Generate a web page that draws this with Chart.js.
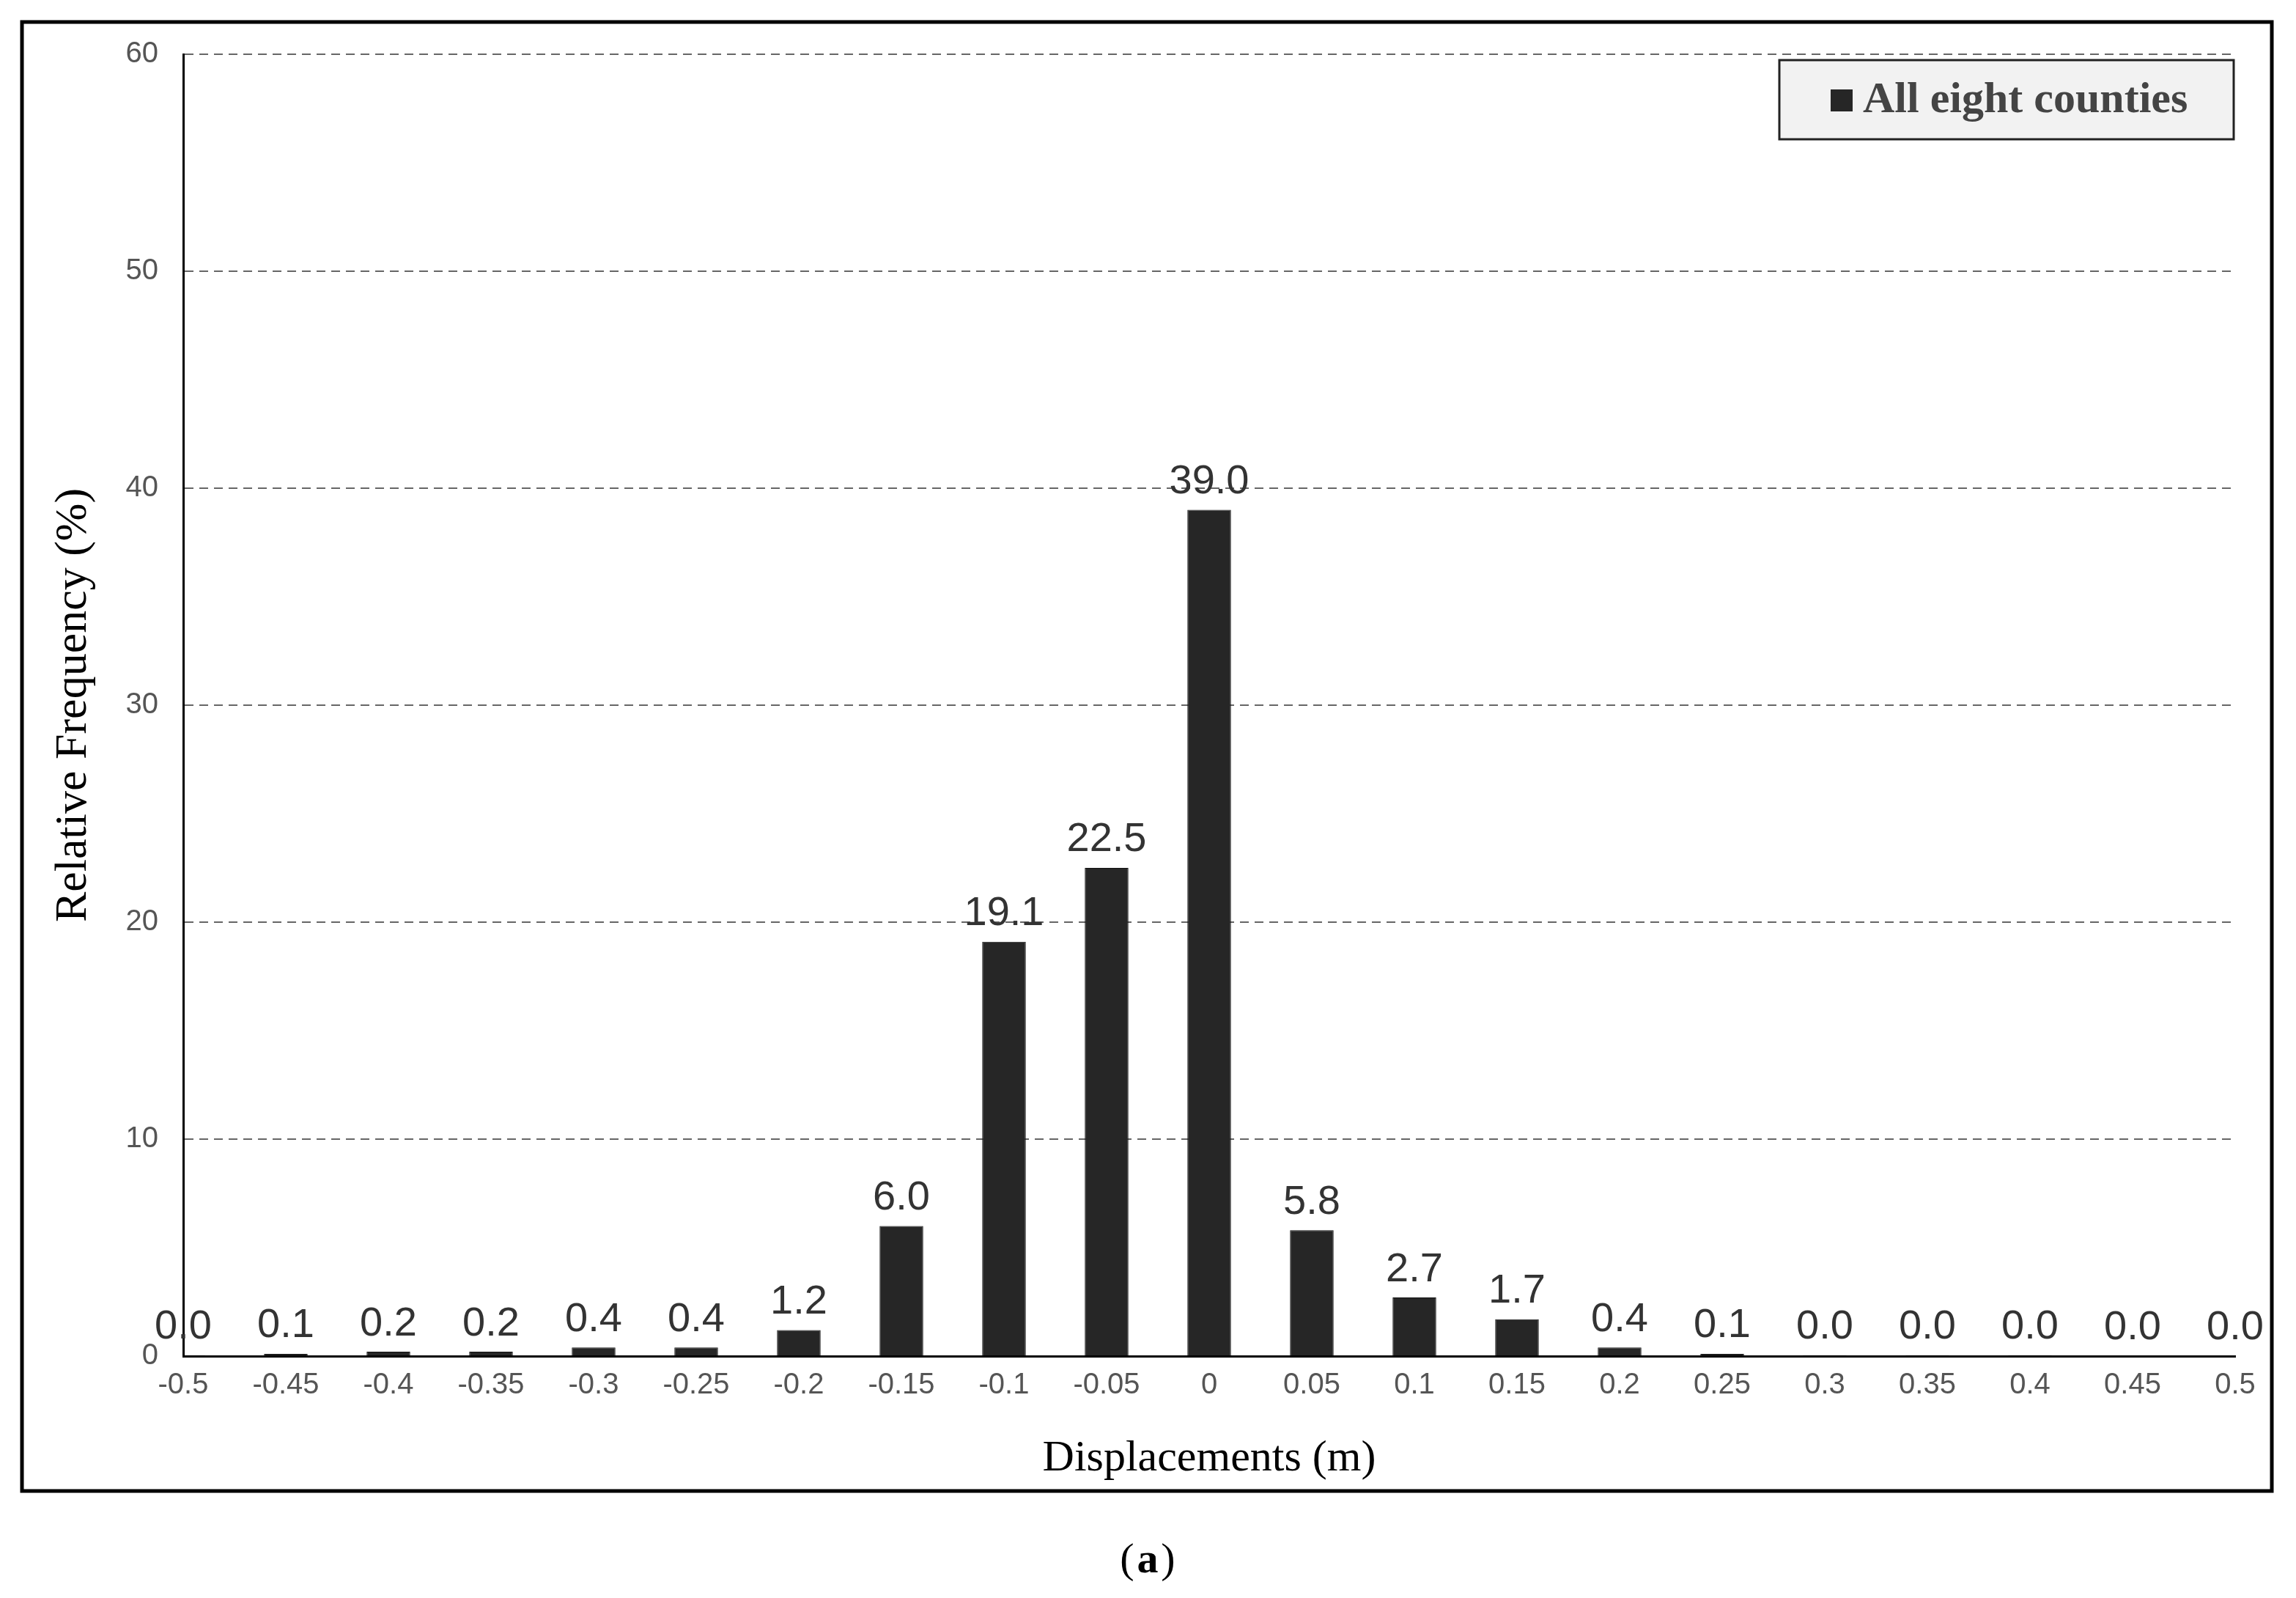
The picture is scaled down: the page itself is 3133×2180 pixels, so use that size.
<!DOCTYPE html>
<html><head><meta charset="utf-8">
<script src="https://cdn.jsdelivr.net/npm/chart.js@4.4.0/dist/chart.umd.min.js"></script>
<style>html,body{margin:0;padding:0;background:#fff}canvas{display:block}</style>
</head><body>
<div style="width:3133px;height:2180px;position:relative"><canvas id="c" width="3133" height="2180"></canvas></div>
<script>
const categories = ['-0.5','-0.45','-0.4','-0.35','-0.3','-0.25','-0.2','-0.15','-0.1','-0.05','0','0.05','0.1','0.15','0.2','0.25','0.3','0.35','0.4','0.45','0.5'];
const frequency = [0.04,0.1,0.2,0.2,0.4,0.4,1.2,6.0,19.1,22.5,39.0,5.8,2.7,1.7,0.4,0.1,0.04,0.04,0.04,0,0];
const yTicks = [0,10,20,30,40,50,60];
const seriesName = 'All eight counties';

const deco = {
  id:'deco',
  afterDraw(chart){
    const ctx = chart.ctx;
    ctx.save();
    ctx.strokeStyle='#000'; ctx.lineWidth=5;
    ctx.strokeRect(30,30,3070,2004);
    const meta = chart.getDatasetMeta(0);
    ctx.fillStyle='#333'; ctx.font='56px "Liberation Sans", Arial, sans-serif';
    ctx.textAlign='center'; ctx.textBaseline='bottom';
    meta.data.forEach((bar,i)=>{
      ctx.fillText(frequency[i].toFixed(1), bar.x, bar.y-10);
    });
    ctx.fillStyle='#f2f2f2'; ctx.fillRect(2428,82,620,108);
    ctx.strokeStyle='#222'; ctx.lineWidth=3; ctx.strokeRect(2428,82,620,108);
    ctx.fillStyle='#262626'; ctx.fillRect(2498,122,30,30);
    ctx.fillStyle='#444'; ctx.font='bold 60px "Liberation Serif", "Times New Roman", serif';
    ctx.textAlign='left'; ctx.textBaseline='middle';
    ctx.fillText(seriesName, 2542, 137);
    ctx.fillStyle='#000'; ctx.textAlign='center';
    ctx.font='58px "Liberation Serif", serif';
    ctx.fillText('(', 1538, 2130);
    ctx.font='bold 58px "Liberation Serif", serif';
    ctx.fillText('a', 1566, 2130);
    ctx.font='58px "Liberation Serif", serif';
    ctx.fillText(')', 1594, 2130);
    ctx.restore();
  }
};

new Chart(document.getElementById('c'), {
  type:'bar',
  data:{labels:categories, datasets:[{label:seriesName, data:frequency, backgroundColor:'#262626', borderColor:'#111', borderWidth:1, barPercentage:0.85, categoryPercentage:0.5}]},
  options:{
    responsive:false, animation:false, devicePixelRatio:1,
    layout:{padding:{left:60,top:74,right:83,bottom:150}},
    plugins:{legend:{display:false}, tooltip:{enabled:false}},
    scales:{
      x:{offset:false, grid:{display:false, drawTicks:true, tickLength:10}, border:{color:'#000',width:3},
         ticks:{color:'#555', font:{size:40, family:'"Liberation Sans", Arial, sans-serif'}, maxRotation:0, autoSkip:false, padding:6},
         title:{display:true, text:'Displacements (m)', color:'#000', font:{size:60, family:'"Liberation Serif", serif'}, padding:{top:14}},
         afterFit(s){s.height=180;}},
      y:{min:0,max:60, afterBuildTicks(s){s.ticks=yTicks.map(v=>({value:v}));},
         grid:{color:(c)=>c.tick.value===0?'rgba(0,0,0,0)':'#666', lineWidth:2, drawTicks:false},
         border:{color:'#000',width:3, dash:[12,8]},
         ticks:{color:'#555', font:{size:40, family:'"Liberation Sans", Arial, sans-serif'}, padding:34},
         title:{display:true, text:'Relative Frequency (%)', color:'#000', font:{size:62, family:'"Liberation Serif", serif'}, padding:{bottom:16}},
         afterFit(s){s.width=190;}}
    }
  },
  plugins:[deco]
});
</script>
</body></html>
